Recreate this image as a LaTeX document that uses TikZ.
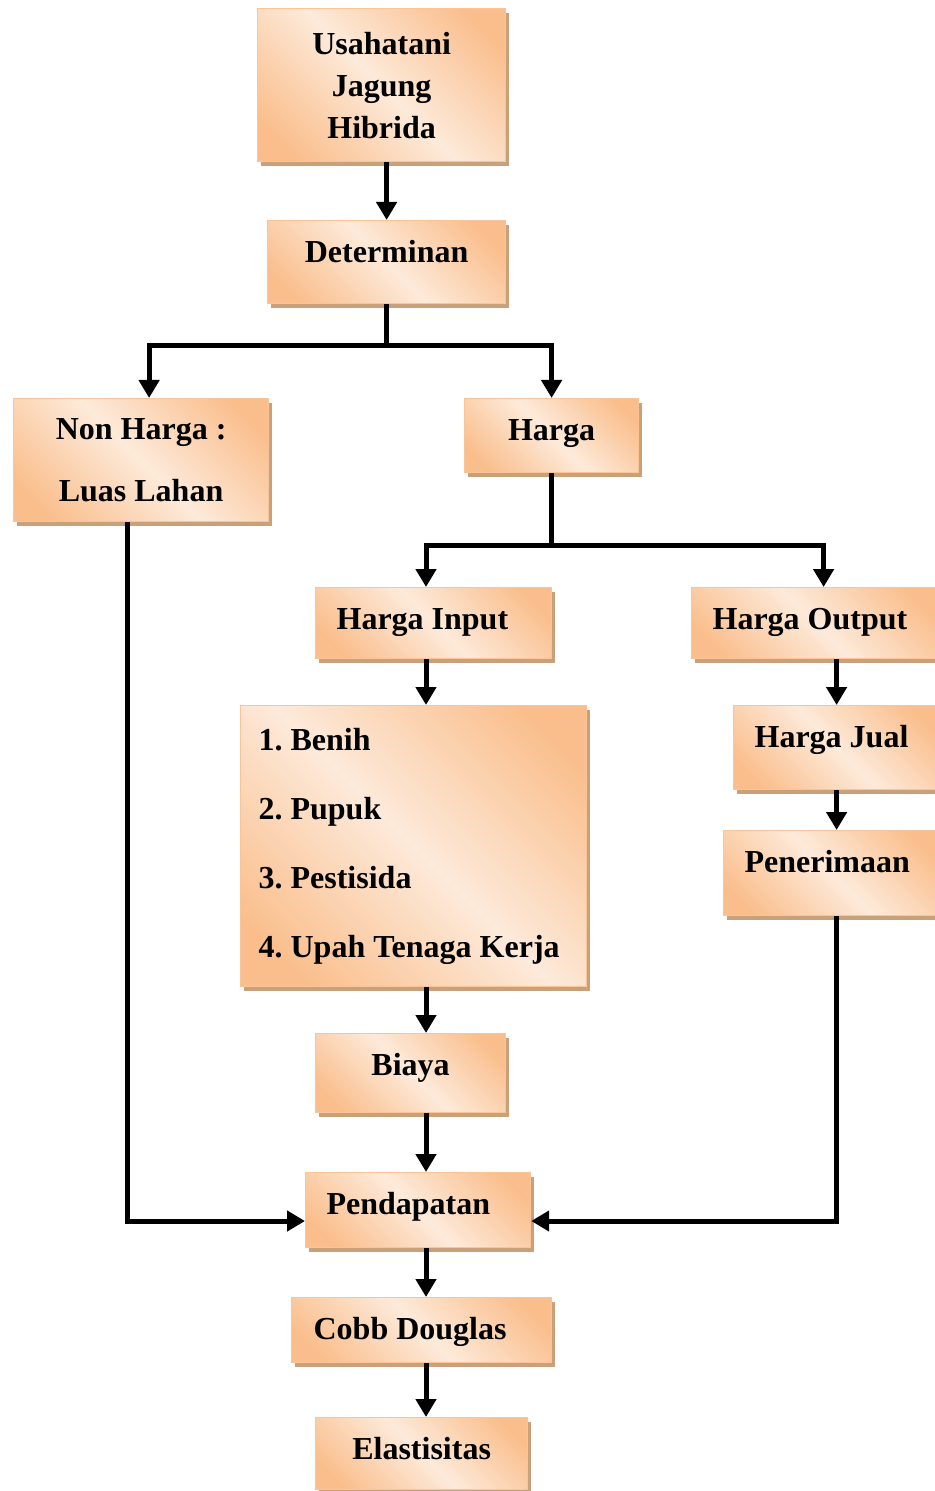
\documentclass[tikz,border=0pt]{standalone}
\usepackage{fontspec}
\setmainfont{Liberation Serif}
\usepackage{tikz}
\usetikzlibrary{positioning}
\usetikzlibrary{calc}
\usetikzlibrary{arrows.meta}
\usetikzlibrary{shadows}
\frenchspacing
\definecolor{peachdark}{RGB}{250,190,140}
\definecolor{peachlight}{RGB}{253,234,218}
\definecolor{peachline}{RGB}{250,196,150}
\definecolor{shadowtan}{RGB}{200,160,122}
\pgfdeclarehorizontalshading{peach}{100bp}{color(0bp)=(peachdark); color(22bp)=(peachdark); color(50bp)=(peachlight); color(78bp)=(peachdark); color(100bp)=(peachdark)}
\tikzset{%
  box/.style = {rectangle,draw=peachline,line width=0.6pt,
        shading=peach,shading angle=45,
        drop shadow={shadow xshift=1.5pt,shadow yshift=-2pt,
        fill=shadowtan,opacity=1},
        inner xsep=0pt,inner ysep=0pt,
        font=\fontsize{16}{21}\selectfont\bfseries},
  onebox/.style = {box,text height=20.75pt},
  leftbox/.style = {onebox,align=flush left,inner xsep=10.5pt},
  arr/.style = {-{Triangle[length=9pt,width=10pt]},line width=2.5pt}
}
\begin{document}
\begin{tikzpicture}[x=0.5pt,y=-0.5pt]
\useasboundingbox (0,0) rectangle (934,1491);
\node[box, minimum width=124pt, minimum height=76.5pt, align=center,
    anchor=north west] (usaha) at (257,8) {Usahatani\\Jagung\\Hibrida};
\node[onebox, minimum width=119pt, text depth=20.75pt,
    anchor=north west] (det) at (267,220) {Determinan};
\node[box, minimum width=127.5pt, minimum height=61.5pt, align=center,
    anchor=north west] (nonharga) at (13,398) {Non Harga :\\[10pt]Luas Lahan};
\node[onebox, minimum width=87pt, text depth=16.25pt,
    anchor=north west] (harga) at (464,398) {Harga};
\node[leftbox, text width=97pt, text depth=14.75pt,
    anchor=north west] (hinput) at (315,587) {Harga Input};
\node[leftbox, text width=103pt, text depth=14.75pt,
    anchor=north west] (houtput) at (691,587) {Harga Output};
\node[leftbox, text width=82pt, text depth=21.25pt,
    anchor=north west] (hjual) at (733,705) {Harga Jual};
\node[leftbox, text width=87pt, text depth=21.75pt,
    anchor=north west] (terima) at (723,830) {Penerimaan};
\node[box, text width=155pt, inner xsep=9pt, minimum height=140.5pt,
    align=flush left, anchor=north west] (input) at (240,705)
    {1. Benih\\[13.5pt]2. Pupuk\\[13.5pt]3. Pestisida\\[13.5pt]4. Upah Tenaga Kerja};
\node[onebox, minimum width=95pt, text depth=18.75pt,
    anchor=north west] (biaya) at (315,1033) {Biaya};
\node[leftbox, text width=91.5pt, text depth=16.75pt,
    anchor=north west] (pend) at (305,1172) {Pendapatan};
\node[leftbox, inner xsep=11pt, text width=108pt, text depth=11.75pt,
    anchor=north west] (cobb) at (291,1297) {Cobb Douglas};
\node[onebox, minimum width=106pt, text depth=15.25pt,
    anchor=north west] (elast) at (315,1417) {Elastisitas};

% connectors
\coordinate (spine) at (426,0);
\coordinate (split1) at (385,346);
\coordinate (split2) at (553,545);
\coordinate (inlevel) at (0,1221);
\draw[arr] (det.north |- usaha.south) -- (det.north);
\draw[arr] (det.south) -- (det.south |- split1) -| ([xshift=4pt]nonharga.north);
\draw[arr] (det.south |- split1) -| (harga.north);
\draw[arr] (harga.south) -- (harga.south |- split2) -| (hinput.north -| spine);
\draw[arr] (harga.south |- split2) -| ([xshift=4pt]houtput.north);
\draw[arr] (hinput.south -| spine) -- (input.north -| spine);
\draw[arr] (hjual.north |- houtput.south) -- (hjual.north);
\draw[arr] (hjual.south) -- (terima.north -| hjual.south);
\draw[arr] (input.south -| spine) -- (biaya.north -| spine);
\draw[arr] (biaya.south -| spine) -- (pend.north -| spine);
\draw[arr] (pend.south -| spine) -- (cobb.north -| spine);
\draw[arr] (cobb.south -| spine) -- (elast.north -| spine);
\draw[arr] ([xshift=-6.75pt]nonharga.south) |- (pend.west |- inlevel);
\draw[arr] (terima.south -| hjual.south) |- (pend.east |- inlevel);
\end{tikzpicture}
\end{document}
